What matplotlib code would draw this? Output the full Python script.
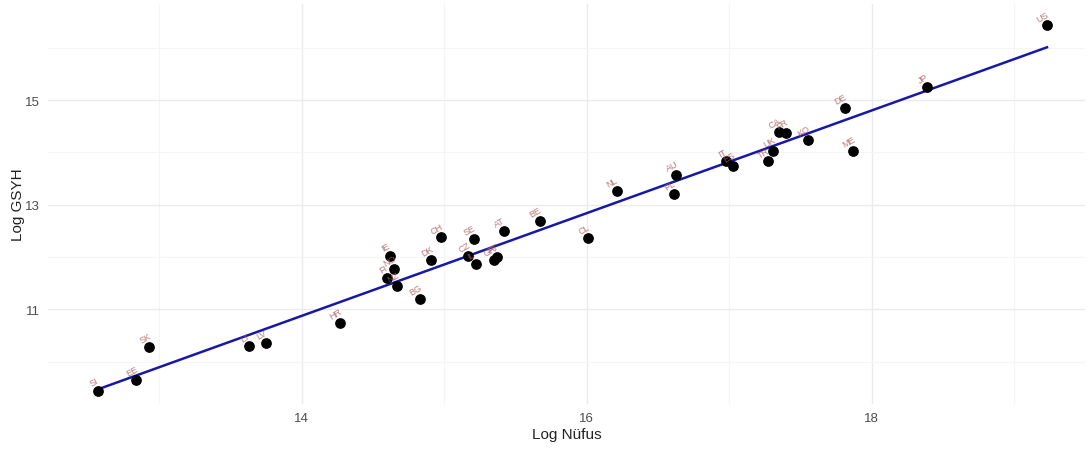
import matplotlib.pyplot as plt
import numpy as np

plt.rcParams['font.family'] = ['Liberation Sans', 'DejaVu Sans']

countries = ["SI", "EE", "SK", "LT", "LV", "HR", "IE", "NO", "FI", "NZ",
             "BG", "DK", "CH", "CZ", "SE", "IL", "GR", "PT", "AT", "BE",
             "CL", "NL", "AU", "PL", "IT", "ES", "TR", "UK", "CA", "FR",
             "KO", "DE", "ME", "JP", "US"]
log_pop = [12.57, 12.84, 12.93, 13.63, 13.75, 14.27, 14.62, 14.65, 14.60, 14.67,
           14.83, 14.91, 14.98, 15.17, 15.21, 15.22, 15.35, 15.37, 15.42, 15.67,
           16.01, 16.21, 16.63, 16.61, 16.98, 17.03, 17.27, 17.31, 17.35, 17.40,
           17.55, 17.81, 17.87, 18.39, 19.23]
log_gdp = [9.44, 9.65, 10.28, 10.30, 10.35, 10.74, 12.02, 11.77, 11.60, 11.44,
           11.20, 11.94, 12.38, 12.02, 12.34, 11.86, 11.95, 12.00, 12.50, 12.69,
           12.36, 13.26, 13.57, 13.20, 13.83, 13.74, 13.83, 14.03, 14.39, 14.37,
           14.24, 14.85, 14.03, 15.25, 16.43]

x = np.array(log_pop)
y = np.array(log_gdp)

fig = plt.figure(figsize=(10.92, 4.56), dpi=100)
ax = fig.add_axes([0.044, 0.112, 0.95, 0.877])

# grid in the style of a minimal theme: major and minor lines, no frame
ax.set_xlim(12.22, 19.5)
ax.set_ylim(9.19, 16.84)
ax.set_xticks([14, 16, 18])
ax.set_yticks([11, 13, 15])
ax.set_xticks([13, 15, 17, 19], minor=True)
ax.set_yticks([10, 12, 14, 16], minor=True)
ax.grid(which='major', color='#ebebeb', linewidth=1.0)
ax.grid(which='minor', color='#f5f5f5', linewidth=0.8)
ax.set_axisbelow(True)
for s in ax.spines.values():
    s.set_visible(False)
ax.tick_params(which='both', length=0, labelsize=9.5, labelcolor='#4d4d4d', pad=6)

# least-squares fit line
slope, intercept = np.polyfit(x, y, 1)
xs = np.array([x.min(), x.max()])
ax.plot(xs, slope * xs + intercept, color='#1818a8', linewidth=1.8, zorder=3)

ax.scatter(x, y, s=45, color='black', zorder=4)

for c, xi, yi in zip(countries, x, y):
    ax.annotate(c, (xi, yi), xytext=(-3, 6.5), textcoords='offset points',
                ha='center', va='center', rotation=30, fontsize=6.5,
                color='#a85858', alpha=0.8, zorder=5)

ax.set_xlabel("Log Nüfus", fontsize=11, color='#222222', labelpad=2)
ax.set_ylabel("Log GSYH", fontsize=11, color='#222222')
ax.yaxis.set_label_coords(-0.022, 0.5)

fig.savefig("out.png", dpi=100, facecolor='white')
